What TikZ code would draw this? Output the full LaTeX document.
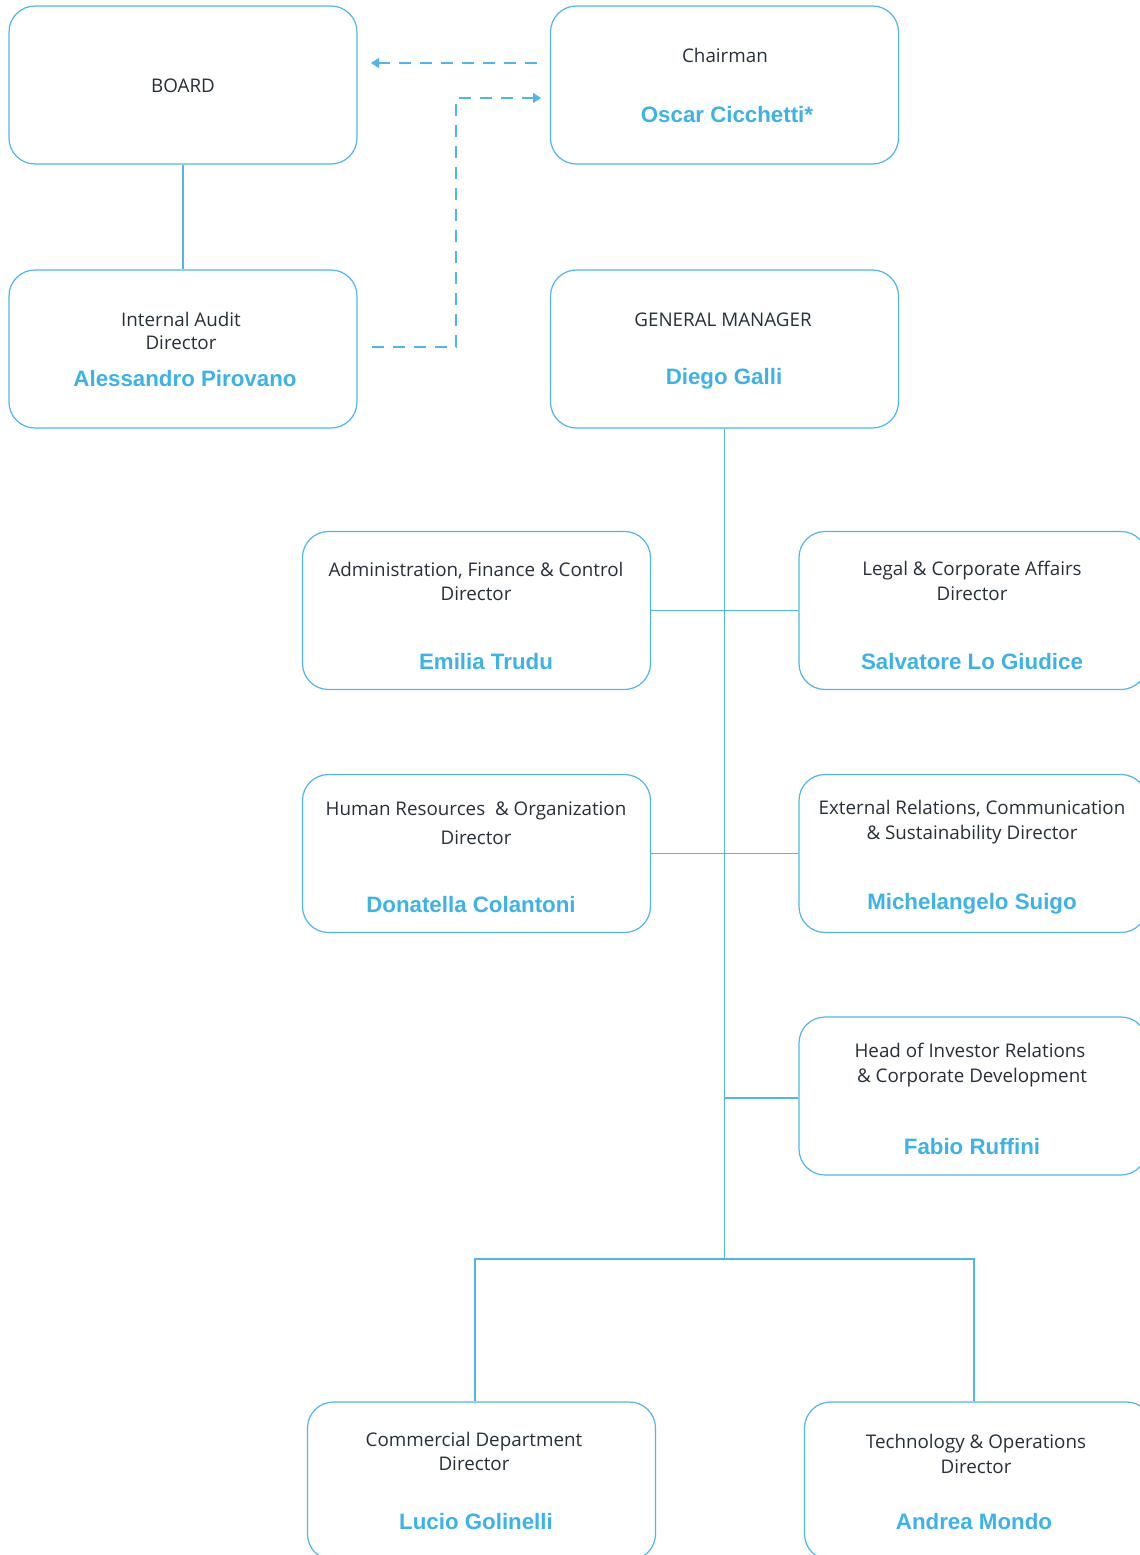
\documentclass[tikz,border=0pt]{standalone}
\usepackage{fontspec}
\setmainfont{Open Sans}
\newfontfamily\namefont{Liberation Sans}
\usetikzlibrary{arrows.meta}
\definecolor{lineblue}{HTML}{4DB6EA}
\definecolor{nameblue}{HTML}{3DB2E8}
\definecolor{txt}{HTML}{26303A}
\tikzset{
  box/.style={draw=lineblue, line width=1.2pt, rounded corners=26pt, minimum width=348pt, minimum height=158pt, inner sep=0pt},
  lbl/.style={text=txt, font=\fontsize{18.8}{22}\selectfont, align=center, inner sep=0pt, yshift=-1.5pt},
  nm/.style={text=nameblue, font=\namefont\bfseries\fontsize{22.3}{25}\selectfont, inner sep=0pt, yshift=-1pt},
  conn/.style={draw=lineblue, line width=1.2pt},
  dconn/.style={draw=lineblue, line width=1.3pt, dash pattern=on 12pt off 9pt},
  tip/.style={-{Triangle[width=10pt,length=8pt]}}
}
\begin{document}
\begin{tikzpicture}[x=1pt,y=-1pt]
\clip (0,0) rectangle (1140,1555);
\fill[white] (0,0) rectangle (1140,1555);
% boxes
\node[box] (board) at (183,85) {};
\node[box] (chair) at (724.5,85) {};
\node[box] (ia) at (183,349) {};
\node[box] (gm) at (724.5,349) {};
\node[box] (afc) at (476.5,610.5) {};
\node[box] (legal) at (973,610.5) {};
\node[box] (hr) at (476.5,853.5) {};
\node[box] (ext) at (973,853.5) {};
\node[box] (inv) at (973,1096) {};
\node[box] (com) at (481.5,1481) {};
\node[box] (tech) at (978.5,1481) {};
% texts
\node[lbl] (t1) at (183,84) {BOARD};
\node[lbl] (t2) at (725,54) {Chairman};
\node[nm] (n2) at (727,114) {Oscar Cicchetti*};
\node[lbl] (t3a) at (181,318) {Internal Audit};
\node[lbl] (t3b) at (181,341) {Director};
\node[nm] (n3) at (185,378) {Alessandro Pirovano};
\node[lbl] (t4) at (723,318) {GENERAL MANAGER};
\node[nm] (n4) at (724,378) {Diego Galli};
\node[lbl] (t5a) at (476,569) {Administration, Finance \& Control};
\node[lbl] (t5b) at (476,592) {Director};
\node[nm] (n5) at (486,661) {Emilia Trudu};
\node[lbl] (t6a) at (972,569) {Legal \& Corporate Affairs};
\node[lbl] (t6b) at (972,592) {Director};
\node[nm] (n6) at (972,661) {Salvatore Lo Giudice};
\node[lbl] (t7a) at (476,809) {Human Resources\ \ \& Organization};
\node[lbl] (t7b) at (476,836) {Director};
\node[nm] (n7) at (471,904) {Donatella Colantoni};
\node[lbl] (t8a) at (972,807) {External Relations, Communication};
\node[lbl] (t8b) at (972,833) {\& Sustainability Director};
\node[nm] (n8) at (972,903) {Michelangelo Suigo};
\node[lbl] (t9a) at (970,1049) {Head of Investor Relations};
\node[lbl] (t9b) at (972,1076) {\& Corporate Development};
\node[nm] (n9) at (972,1146) {Fabio Ruffini};
\node[lbl] (t10a) at (474,1440) {Commercial Department};
\node[lbl] (t10b) at (474,1462) {Director};
\node[nm] (n10) at (476,1521) {Lucio Golinelli};
\node[lbl] (t11a) at (976,1442) {Technology \& Operations};
\node[lbl] (t11b) at (976,1465) {Director};
\node[nm] (n11) at (974,1521) {Andrea Mondo};
% connectors
\draw[conn] (board.south) -- (ia.north);
\coordinate (j0) at (724.5,1259);
\coordinate (jl) at (475,1259);
\coordinate (jr) at (974,1259);
\draw[conn] (gm.south) -- (j0);
\draw[conn] (afc.east) -- (legal.west);
\draw[conn] (hr.east) -- (ext.west);
\draw[conn] (724.5,1098) -- (inv.west |- 0,1098);
\draw[conn] (com.north -| jl) -- (jl) -- (jr) -- (tech.north -| jr);
% dashed
\coordinate (d1s) at (537,63);
\coordinate (d1e) at (371,63);
\draw[dconn, tip] (d1s) -- (d1e);
\coordinate (d2s) at (372,347);
\coordinate (d2m) at (456,347);
\coordinate (d2n) at (456,98);
\coordinate (d2e) at (541,98);
\draw[dconn, tip] (d2s) -- (d2m) -- (d2n) -- (d2e);
\end{tikzpicture}
\end{document}
